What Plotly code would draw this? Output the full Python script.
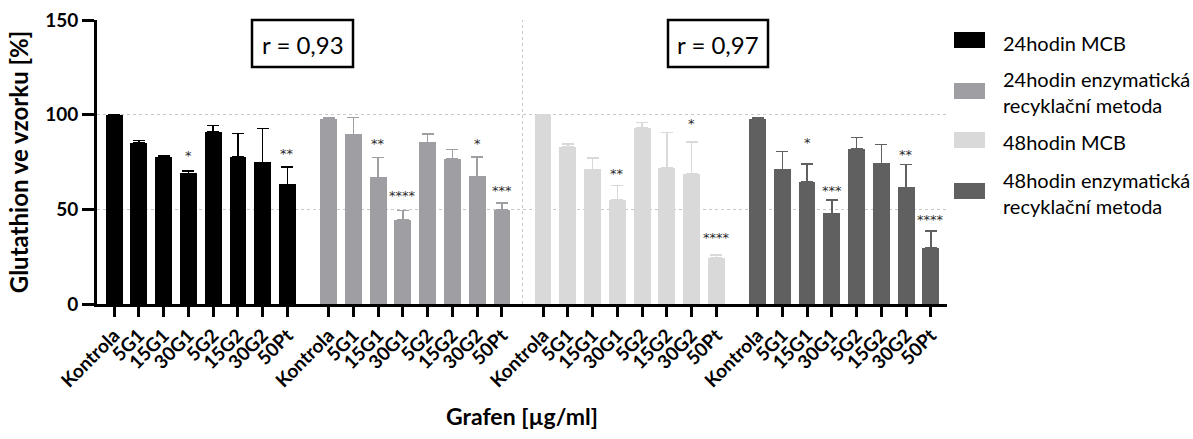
import plotly.graph_objects as go

categories = ["Kontrola", "5G1", "15G1", "30G1", "5G2", "15G2", "30G2", "50Pt"]
series_names = ["24hodin MCB", "24hodin enzymatická<br>recyklační metoda",
                "48hodin MCB", "48hodin enzymatická<br>recyklační metoda"]
colors = ["#000000", "#9e9ea3", "#d9d9d9", "#606060"]

mcb_24 = [100, 84.9, 77.5, 69.0, 91.0, 77.5, 74.8, 63.2]
enz_24 = [97.5, 89.6, 66.9, 44.4, 85.4, 76.8, 67.4, 49.5]
mcb_48 = [100, 82.9, 71.1, 54.8, 93.1, 71.7, 68.8, 24.3]
enz_48 = [97.7, 71.1, 64.3, 47.9, 81.9, 74.3, 61.6, 29.6]

err_24_mcb = [0, 1.4, 1.0, 1.4, 3.2, 12.5, 17.8, 9.3]
err_24_enz = [0.9, 9.0, 10.4, 4.9, 4.4, 4.9, 10.4, 4.0]
err_48_mcb = [0, 1.6, 6.0, 7.7, 2.7, 18.8, 16.9, 1.6]
err_48_enz = [0.7, 9.4, 9.8, 7.0, 6.0, 9.9, 12.0, 9.0]

stars_24_mcb = ["", "", "", "*", "", "", "", "**"]
stars_24_enz = ["", "", "**", "****", "", "", "*", "***"]
stars_48_mcb = ["", "", "", "**", "", "", "*", "****"]
stars_48_enz = ["", "", "*", "***", "", "", "**", "****"]

star_y_24_mcb = [0, 0, 0, 79.2, 0, 0, 0, 79.8]
star_y_24_enz = [0, 0, 85.4, 57.7, 0, 0, 85.4, 60.6]
star_y_48_mcb = [0, 0, 0, 69.6, 0, 0, 96.0, 35.8]
star_y_48_enz = [0, 0, 85.6, 60.6, 0, 0, 79.6, 44.9]

r_labels = ["r = 0,93", "r = 0,97"]

values = [mcb_24, enz_24, mcb_48, enz_48]
errors = [err_24_mcb, err_24_enz, err_48_mcb, err_48_enz]
stars = [stars_24_mcb, stars_24_enz, stars_48_mcb, stars_48_enz]
star_ys = [star_y_24_mcb, star_y_24_enz, star_y_48_mcb, star_y_48_enz]

GROUP_STEP = 8.66
FONT = "Lato"

fig = go.Figure()
tickvals, ticktext = [], []
annotations = []
for g in range(4):
    xs = [g * GROUP_STEP + i for i in range(len(categories))]
    tickvals += xs
    ticktext += categories
    fig.add_trace(go.Bar(
        x=xs, y=values[g], width=0.68, name=series_names[g],
        marker=dict(color=colors[g], line=dict(width=0)),
        error_y=dict(type="data", array=errors[g], arrayminus=[0] * 8,
                     symmetric=False, color=colors[g], thickness=1.6, width=6),
        showlegend=False,
    ))
    for x, s, sy in zip(xs, stars[g], star_ys[g]):
        if s:
            annotations.append(dict(x=x, y=sy, xref="x", yref="y", text=s,
                                    showarrow=False, yanchor="middle", yshift=-1,
                                    font=dict(family="DejaVu Sans", size=13, color="#2a2a2a")))

# plot area in pixels: left 97, right 947, top 20, bottom 304
L, R, T, B = 97, 947, 20, 304
def px(xp):
    return (xp - L) / (R - L)
def py(yp):
    return (B - yp) / (B - T)

shapes = []
# vertical dotted separator between the 2nd and 3rd group
sep_x = (GROUP_STEP + 7 + 2 * GROUP_STEP) / 2
shapes.append(dict(type="line", xref="x", yref="y", x0=sep_x, x1=sep_x, y0=0, y1=150,
                   line=dict(color="#c8c8c8", width=1, dash="dot"), layer="below"))
# r boxes
for (x0, x1), lab in zip([(252, 353), (668, 768)], r_labels):
    shapes.append(dict(type="rect", xref="paper", yref="paper", x0=px(x0), x1=px(x1),
                       y0=py(67), y1=py(20), line=dict(color="black", width=2.5),
                       fillcolor="white"))
    annotations.append(dict(xref="paper", yref="paper", x=(px(x0) + px(x1)) / 2, y=py(44),
                            text=lab, showarrow=False, xanchor="center", yanchor="middle",
                            font=dict(family=FONT, size=24, color="black")))

# legend (manual)
legend_swatch_y = [(32, 48), (83, 99), (132, 148), (183, 199)]
legend_text_y = [43, 92, 142, 193]
for g in range(4):
    y0, y1 = legend_swatch_y[g]
    shapes.append(dict(type="rect", xref="paper", yref="paper", x0=px(954), x1=px(985),
                       y0=py(y1), y1=py(y0), fillcolor=colors[g], line=dict(width=0)))
    annotations.append(dict(xref="paper", yref="paper", x=px(1001), y=py(legend_text_y[g]),
                            text=series_names[g], showarrow=False, xanchor="left",
                            yanchor="middle", align="left",
                            font=dict(family=FONT, size=20, color="black")))

fig.update_layout(
    width=1193, height=439,
    margin=dict(l=L, r=1193 - R, t=T, b=439 - B),
    plot_bgcolor="white", paper_bgcolor="white",
    bargap=0, showlegend=False,
    shapes=shapes, annotations=annotations,
    font=dict(family=FONT, color="black"),
)
fig.update_xaxes(
    range=[-0.69, 3 * GROUP_STEP + 7 + 0.65], automargin=False,
    tickvals=tickvals, ticktext=ticktext, tickangle=-45,
    tickfont=dict(family=FONT, size=19, weight="bold", color="black"),
    ticks="outside", ticklen=10, tickwidth=3, tickcolor="black",
    showline=True, linewidth=3, linecolor="black", showgrid=False, zeroline=False,
    title=dict(text="Grafen [µg/ml]", font=dict(family=FONT, size=23, weight="bold"), standoff=19),
)
fig.update_yaxes(
    range=[0, 150], tickvals=[0, 50, 100, 150], automargin=False,
    tickfont=dict(family=FONT, size=19, weight="bold", color="black"),
    ticks="outside", ticklen=12, tickwidth=3, tickcolor="black",
    showline=True, linewidth=3, linecolor="black",
    showgrid=True, gridcolor="#c8c8c8", griddash="dot", gridwidth=1, zeroline=False,
    title=dict(text="Glutathion ve vzorku [%]", font=dict(family=FONT, size=24, weight="bold"), standoff=10),
)

fig.write_html("out.html")
